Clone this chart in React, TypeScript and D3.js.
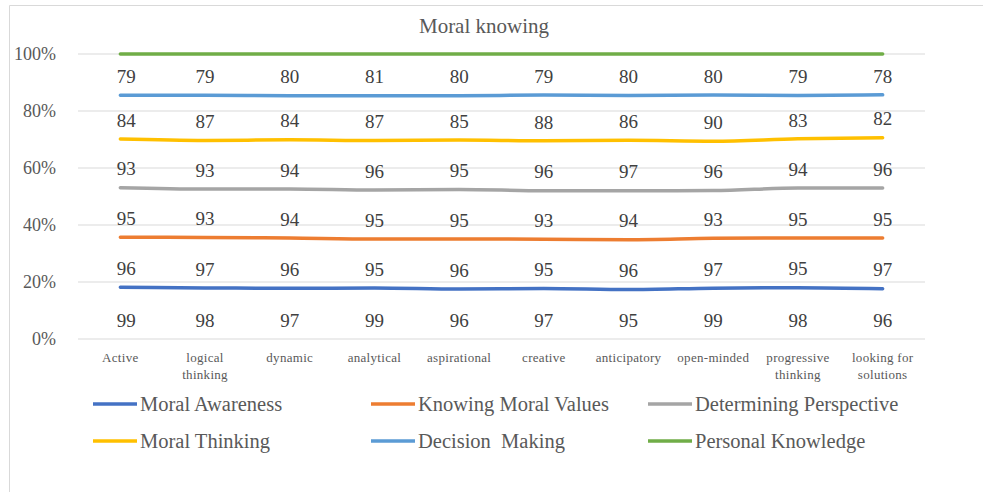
import React from "react";
import * as d3 from "d3";

const categories = [
  "Active",
  "logical thinking",
  "dynamic",
  "analytical",
  "aspirational",
  "creative",
  "anticipatory",
  "open-minded",
  "progressive thinking",
  "looking for solutions",
];

const seriesNames = [
  "Moral Awareness",
  "Knowing Moral Values",
  "Determining Perspective",
  "Moral Thinking",
  "Decision  Making",
  "Personal Knowledge",
];

const moralAwareness = [99, 98, 97, 99, 96, 97, 95, 99, 98, 96];
const knowingMoralValues = [96, 97, 96, 95, 96, 95, 96, 97, 95, 97];
const determiningPerspective = [95, 93, 94, 95, 95, 93, 94, 93, 95, 95];
const moralThinking = [93, 93, 94, 96, 95, 96, 97, 96, 94, 96];
const decisionMaking = [84, 87, 84, 87, 85, 88, 86, 90, 83, 82];
const personalKnowledge = [79, 79, 80, 81, 80, 79, 80, 80, 79, 78];

const yTicks = [0, 0.2, 0.4, 0.6, 0.8, 1];

const colors = ["#4472C4", "#ED7D31", "#A5A5A5", "#FFC000", "#5B9BD5", "#70AD47"];

const W = 983;
const H = 492;
const FONT = "'Liberation Serif', 'DejaVu Serif', serif";

export default function App() {
  const seriesValues = [
    moralAwareness,
    knowingMoralValues,
    determiningPerspective,
    moralThinking,
    decisionMaking,
    personalKnowledge,
  ];
  const totals = categories.map((_, i) => d3.sum(seriesValues, (s) => s[i]));
  const cum: number[][] = [];
  seriesValues.forEach((s, k) => {
    cum.push(s.map((v, i) => (k === 0 ? 0 : cum[k - 1][i]) + v / totals[i]));
  });

  const x = d3.scaleBand<string>().domain(categories).range([78, 925]);
  const y = d3.scaleLinear().domain([0, 1]).range([339, 54]);
  const cx = (c: string) => (x(c) as number) + x.bandwidth() / 2;

  const line = d3
    .line<number>()
    .x((_, i) => cx(categories[i]))
    .y((d) => y(d))
    .curve(d3.curveMonotoneX);

  const labelOffset = 19;

  const legendCols = [93, 371, 648];
  const legendRows = [404, 441];

  const wrap = (s: string) => {
    const parts = s.split(" ");
    if (parts.length <= 1) return [s];
    return [parts.slice(0, -1).join(" "), parts[parts.length - 1]];
  };

  return (
    <svg
      width={W}
      height={H}
      style={{ position: "absolute", left: 0, top: 0, background: "#fff" }}
      fontFamily={FONT}
    >
      <rect x={0} y={0} width={W} height={H} fill="#fff" />
      <path d={`M9.5,${H} V5.5 H${W}`} fill="none" stroke="#D9D9D9" strokeWidth={1} />
      <text x={484} y={33} textAnchor="middle" fontSize={21} fill="#595959">
        Moral knowing
      </text>

      {yTicks.map((t) => (
        <g key={t}>
          <line x1={78} x2={925} y1={y(t)} y2={y(t)} stroke="#D9D9D9" strokeWidth={1} />
          <text x={56} y={y(t)} dy="0.35em" textAnchor="end" fontSize={18} fill="#595959">
            {d3.format(".0%")(t)}
          </text>
        </g>
      ))}

      {categories.map((c) => {
        const lines = wrap(c);
        return (
          <text key={c} textAnchor="middle" fontSize={13} fill="#595959" letterSpacing={0.3}>
            {lines.map((l, j) => (
              <tspan key={j} x={cx(c)} y={362 + j * 17}>
                {l}
              </tspan>
            ))}
          </text>
        );
      })}

      {cum.map((s, k) => (
        <path
          key={k}
          d={line(s) || ""}
          fill="none"
          stroke={colors[k]}
          strokeWidth={3.5}
          strokeLinecap="round"
        />
      ))}

      {seriesValues.map((s, k) =>
        s.map((v, i) => {
          const base = k === 0 ? 0 : cum[k - 1][i];
          return (
            <text
              key={`${k}-${i}`}
              x={cx(categories[i]) + (i === 0 ? 6 : 0)}
              y={y(base) - labelOffset}
              dy="0.35em"
              textAnchor="middle"
              fontSize={19}
              fill="#404040"
            >
              {v}
            </text>
          );
        })
      )}

      {seriesNames.map((n, k) => {
        const lx = legendCols[k % 3];
        const ly = legendRows[Math.floor(k / 3)];
        return (
          <g key={n}>
            <line x1={lx} x2={lx + 44} y1={ly} y2={ly} stroke={colors[k]} strokeWidth={3.5} />
            <text x={lx + 47} y={ly} dy="0.35em" fontSize={20.5} fill="#595959" xmlSpace="preserve">
              {n}
            </text>
          </g>
        );
      })}
    </svg>
  );
}
